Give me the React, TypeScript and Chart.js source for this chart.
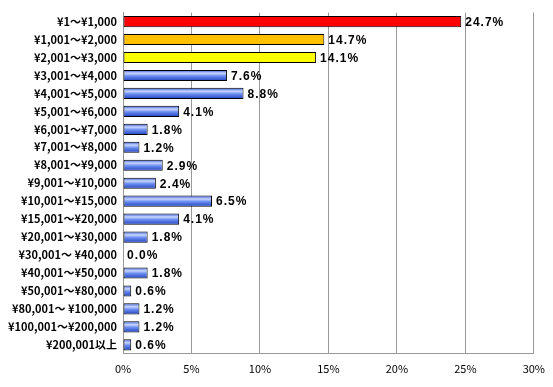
import React, { useEffect, useRef } from "react";
import { Chart, registerables } from "chart.js";

Chart.register(...registerables);

const categories = [
  "¥1～¥1,000",
  "¥1,001～¥2,000",
  "¥2,001～¥3,000",
  "¥3,001～¥4,000",
  "¥4,001～¥5,000",
  "¥5,001～¥6,000",
  "¥6,001～¥7,000",
  "¥7,001～¥8,000",
  "¥8,001～¥9,000",
  "¥9,001～¥10,000",
  "¥10,001～¥15,000",
  "¥15,001～¥20,000",
  "¥20,001～¥30,000",
  "¥30,001～ ¥40,000",
  "¥40,001～¥50,000",
  "¥50,001～¥80,000",
  "¥80,001～ ¥100,000",
  "¥100,001～¥200,000",
  "¥200,001以上",
];

const values = [24.7, 14.7, 14.1, 7.6, 8.8, 4.1, 1.8, 1.2, 2.9, 2.4, 6.5, 4.1, 1.8, 0.0, 1.8, 0.6, 1.2, 1.2, 0.6];

const xTicks = [0, 5, 10, 15, 20, 25, 30];

const solidColors: Record<number, string> = { 0: "#ff0000", 1: "#ffc000", 2: "#ffff00" };

const BAR_PCT = 0.62;

export default function App() {
  const ref = useRef<HTMLCanvasElement | null>(null);

  useEffect(() => {
    document.body.style.margin = "0";
    const canvas = ref.current;
    if (!canvas) return;

    const valueLabels = {
      id: "valueLabels",
      afterDatasetsDraw(chart: any) {
        const ctx = chart.ctx;
        const meta = chart.getDatasetMeta(0);
        ctx.save();
        ctx.font = "bold 12px 'Liberation Sans'";
        ctx.fillStyle = "#000";
        ctx.textAlign = "left";
        ctx.textBaseline = "middle";
        try {
          (ctx as any).letterSpacing = "1px";
        } catch (e) {}
        meta.data.forEach((el: any, i: number) => {
          ctx.fillText(values[i].toFixed(1) + "%", el.x + 4, el.y + 1);
        });
        ctx.restore();
      },
    };

    const chart = new Chart(canvas, {
      type: "bar",
      data: {
        labels: categories,
        datasets: [
          {
            data: values,
            backgroundColor: (c: any) => {
              const i = c.dataIndex;
              if (solidColors[i]) return solidColors[i];
              const ch = c.chart;
              const ys = ch.scales && ch.scales.y;
              if (!ys || ys.height === undefined) return "#4f73e6";
              const y = ys.getPixelForValue(i);
              const h = (ys.height / categories.length) * BAR_PCT;
              const g = ch.ctx.createLinearGradient(0, y - h / 2, 0, y + h / 2);
              g.addColorStop(0, "#2a4fd0");
              g.addColorStop(0.3, "#c8d6ff");
              g.addColorStop(0.55, "#6a8cf0");
              g.addColorStop(1, "#1f40c0");
              return g;
            },
            borderColor: "#000",
            borderWidth: 1,
            borderSkipped: false,
            barPercentage: BAR_PCT,
            categoryPercentage: 1,
          },
        ],
      },
      options: {
        indexAxis: "y",
        animation: false,
        responsive: false,
        maintainAspectRatio: false,
        layout: { padding: { top: 11, right: 10, bottom: 4, left: 2 } },
        plugins: { legend: { display: false }, tooltip: { enabled: false } },
        scales: {
          x: {
            min: 0,
            max: 30,
            afterBuildTicks: (s: any) => {
              s.ticks = xTicks.map((v) => ({ value: v }));
            },
            ticks: {
              callback: (v: any) => v + "%",
              color: "#000",
              font: { family: "'Noto Sans CJK JP'", size: 11 },
              padding: 8,
            },
            grid: { color: "#999", drawTicks: false, lineWidth: 1 },
            border: { color: "#999" },
          },
          y: {
            ticks: {
              color: "#000",
              font: { family: "'Noto Sans CJK JP'", size: 11, weight: "bold" },
              padding: 6,
              autoSkip: false,
            },
            grid: { display: false, drawTicks: false },
            border: { color: "#999" },
          },
        },
      },
      plugins: [valueLabels],
    } as any);

    return () => chart.destroy();
  }, []);

  return <canvas ref={ref} width={553} height={387} style={{ display: "block" }} />;
}
